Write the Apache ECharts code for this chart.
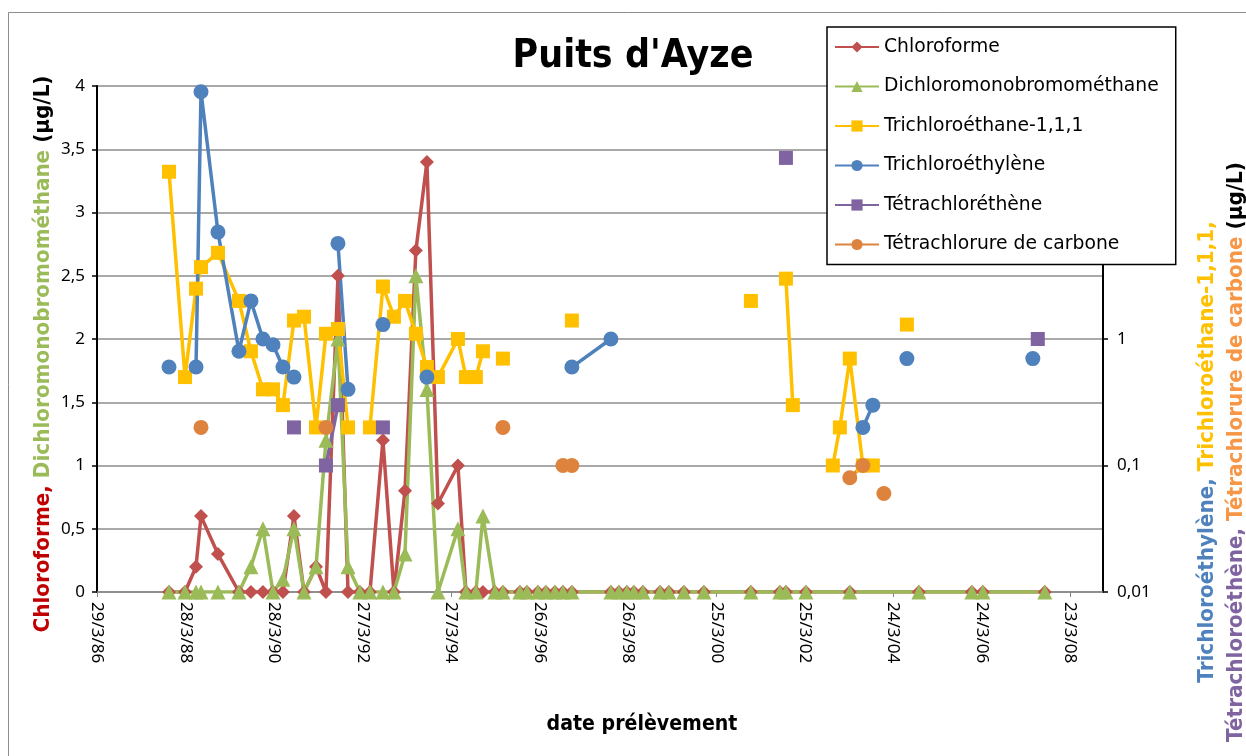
<!DOCTYPE html>
<html>
<head>
<meta charset="utf-8">
<script src="https://cdn.jsdelivr.net/npm/echarts@6/dist/echarts.min.js"></script>
<style>
html,body{margin:0;padding:0;background:#fff;}
#c{width:1246px;height:756px;}
</style>
</head>
<body>
<div id="c"></div>
<script>
// ---- data ----
const dates = [
 '1987-11-13','1988-03-24','1988-06-23','1988-08-03','1988-12-21','1989-06-12','1989-09-19','1989-12-27',
 '1990-03-20','1990-06-10','1990-09-09','1990-12-01','1991-03-10','1991-05-31','1991-09-07','1991-11-29',
 '1992-03-06','1992-05-28','1992-09-12','1992-12-12','1993-03-13','1993-06-11','1993-09-10','1993-12-10',
 '1994-05-24','1994-07-29','1994-10-19','1994-12-16','1995-03-25','1995-05-30','1995-10-17','1995-12-14',
 '1996-03-14','1996-05-19','1996-08-01','1996-10-06','1996-12-19','1997-11-06','1998-01-11','1998-03-18',
 '1998-05-15','1998-07-28','1998-12-16','1999-02-27','1999-07-01','1999-12-13','2001-01-04','2001-08-31',
 '2001-10-20','2001-12-16','2002-04-03','2002-11-11','2003-01-08','2003-03-31','2003-07-17','2003-10-07',
 '2004-01-06','2004-07-14','2004-10-21','2006-01-01','2006-04-02','2007-05-19','2007-06-29','2007-08-26'
];
const n = null;
const chloroforme = [
 0,0,0.2,0.6,0.3,0,0,0,
 0,0,0.6,0,0.2,0,2.5,0,
 0,0,1.2,0,0.8,2.7,3.4,0.7,
 1.0,0,0,0,0,0,0,0,
 0,0,0,0,0,0,0,0,
 0,0,0,0,0,0,0,0,
 0,n,0,n,n,0,n,n,
 n,n,0,0,0,n,n,0
];
const dichloromonobromomethane = [
 0,0,0,0,0,0,0.2,0.5,
 0,0.1,0.5,0,0.2,1.2,2.0,0.2,
 0,0,0,0,0.3,2.5,1.6,0,
 0.5,0,0,0.6,0,0,0,0,
 0,0,0,0,0,0,0,0,
 0,0,0,0,0,0,0,0,
 0,n,0,n,n,0,n,n,
 n,n,0,0,0,n,n,0
];
const trichloroethane111 = [
 21,0.5,2.5,3.7,4.8,2.0,0.8,0.4,
 0.4,0.3,1.4,1.5,0.2,1.1,1.2,0.2,
 n,0.2,2.6,1.5,2.0,1.1,0.6,0.5,
 1.0,0.5,0.5,0.8,n,0.7,n,n,
 n,n,n,n,1.4,n,n,n,
 n,n,n,n,n,n,2.0,n,
 3.0,0.3,n,0.1,0.2,0.7,0.1,0.1,
 n,1.3,n,n,n,n,n,n
];
const trichloroethylene = [
 0.6,n,0.6,90,7,0.8,2.0,1.0,
 0.9,0.6,0.5,n,n,n,5.7,0.4,
 n,n,1.3,n,n,n,0.5,n,
 n,n,n,n,n,n,n,n,
 n,n,n,n,0.6,1.0,n,n,
 n,n,n,n,n,n,n,n,
 n,n,n,n,n,n,0.2,0.3,
 n,0.7,n,n,n,0.7,n,n
];
const tetrachloroethene = [
 n,n,n,n,n,n,n,n,
 n,n,0.2,n,n,0.1,0.3,n,
 n,n,0.2,n,n,n,n,n,
 n,n,n,n,n,n,n,n,
 n,n,n,n,n,n,n,n,
 n,n,n,n,n,n,n,n,
 27,n,n,n,n,n,n,n,
 n,n,n,n,n,n,1.0,n
];
const tetrachlorureCarbone = [
 n,n,n,0.2,n,n,n,n,
 n,n,n,n,n,0.2,n,n,
 n,n,n,n,n,n,n,n,
 n,n,n,n,n,0.2,n,n,
 n,n,n,0.1,0.1,n,n,n,
 n,n,n,n,n,n,n,n,
 n,n,n,n,n,0.08,0.1,n,
 0.06,n,n,n,n,n,n,n
];
const seriesNames = ['Chloroforme','Dichloromonobromométhane','Trichloroéthane-1,1,1','Trichloroéthylène','Tétrachloréthène','Tétrachlorure de carbone'];
const leftTicks = [0,0.5,1,1.5,2,2.5,3,3.5,4];
const rightTicks = [0.01,0.1,1,10,100];

// ---- helpers ----
const FONT = 'DejaVu Sans';
const TICKFONT = 'Noto Sans';
const base = Date.UTC(1986, 2, 29);
function dayOffset(s){ const p = s.split('-').map(Number); return Math.round((Date.UTC(p[0],p[1]-1,p[2]) - base)/86400000); }
const xs = dates.map(dayOffset);
function pairs(vals){ return vals.map((v,i) => [xs[i], v == null ? '-' : v]); }
function fmtDate(v){ const d = new Date(base + v*86400000); return d.getUTCDate() + '/' + (d.getUTCMonth()+1) + '/' + String(d.getUTCFullYear()).slice(2); }
function fmtNum(v){ return String(+(+v).toPrecision(6)).replace('.', ','); }

const colors = ['#C0504D','#9BBB59','#FFC000','#4F81BD','#8064A2','#DE833D'];
const symbols = ['diamond','triangle','rect','circle','rect','circle'];
const sizes = [14,15,14,15,14,15];
const allVals = [chloroforme, dichloromonobromomethane, trichloroethane111, trichloroethylene, tetrachloroethene, tetrachlorureCarbone];

const series = allVals.map((vals, i) => ({
  name: seriesNames[i],
  type: 'line',
  yAxisIndex: i < 2 ? 0 : 1,
  data: pairs(vals),
  connectNulls: i < 2,
  symbol: symbols[i],
  symbolSize: sizes[i],
  showSymbol: true,
  lineStyle: { color: colors[i], width: 3.5 },
  itemStyle: { color: colors[i], borderWidth: 0 },
  emphasis: { disabled: true },
  animation: false
}));

const B = '"DejaVu Sans"';
function rs(c){ return { fill: c, font: 'bold 20px ' + B }; }

const chart = echarts.init(document.getElementById('c'), null, { renderer: 'canvas' });
chart.setOption({
  animation: false,
  backgroundColor: '#fff',
  textStyle: { fontFamily: FONT },
  grid: { left: 97, right: 143, top: 86, bottom: 164, containLabel: false },
  xAxis: {
    type: 'value', min: 0, max: 8300, interval: 730,
    axisLine: { onZero: false, lineStyle: { color: '#868686', width: 1.5 } },
    axisTick: { show: true, length: 5, lineStyle: { color: '#868686', width: 1 } },
    axisLabel: { rotate: -90, margin: 10, color: '#000', fontSize: 17, fontFamily: TICKFONT, formatter: fmtDate, showMaxLabel: false, showMinLabel: true },
    splitLine: { show: false }
  },
  yAxis: [
    {
      type: 'value', min: leftTicks[0], max: leftTicks[leftTicks.length-1], interval: 0.5,
      axisLine: { show: true, lineStyle: { color: '#000', width: 2 } },
      axisTick: { show: true, length: 5, lineStyle: { color: '#000', width: 1.5 } },
      axisLabel: { margin: 12, color: '#000', fontSize: 17, fontFamily: TICKFONT, formatter: fmtNum },
      splitLine: { show: true, lineStyle: { color: '#8c8c8c', width: 1.5 } }
    },
    {
      type: 'log', logBase: 10, min: rightTicks[0], max: rightTicks[rightTicks.length-1],
      axisLine: { show: true, lineStyle: { color: '#000', width: 2 } },
      axisTick: { show: true, length: 5, lineStyle: { color: '#000', width: 1.5 } },
      axisLabel: { margin: 14, color: '#000', fontSize: 17, fontFamily: TICKFONT, formatter: fmtNum },
      splitLine: { show: false },
      minorTick: { show: false }
    }
  ],
  legend: {
    orient: 'vertical', left: 827, top: 27,
    padding: [10, 17, 10, 7],
    itemWidth: 44, itemHeight: 14, itemGap: 19.5,
    backgroundColor: '#fff', borderColor: '#000', borderWidth: 1.5,
    textStyle: { color: '#000', fontSize: 18.75, fontFamily: FONT, lineHeight: 20 },
    data: seriesNames,
    selectedMode: false
  },
  graphic: [
    { type: 'rect', shape: { x: 8.5, y: 12.5, width: 1400, height: 900 }, style: { fill: 'none', stroke: '#8c8c8c', lineWidth: 1 }, silent: true, z: -10 },
    { type: 'text', x: 633, y: 57, scaleY: 1.1, style: { text: "Puits d'Ayze", font: 'bold 35px ' + B, fill: '#000', align: 'center', verticalAlign: 'middle' } },
    { type: 'text', x: 642, y: 725, scaleY: 1.1, style: { text: 'date prélèvement', font: 'bold 19px ' + B, fill: '#000', align: 'center', verticalAlign: 'middle' } },
    { type: 'text', x: 43, y: 354, rotation: Math.PI/2, scaleY: 1.1,
      style: { text: '{r|Chloroforme,} {g|Dichloromonobromométhane} {k|(µg/L)}', align: 'center', verticalAlign: 'middle',
        font: 'bold 20px ' + B,
        rich: { r: rs('#C00000'), g: rs('#9BBB59'), k: rs('#000') } } },
    { type: 'text', x: 1207, y: 452, rotation: Math.PI/2, scaleY: 1.1,
      style: { text: '{b|Trichloroéthylène,} {y|Trichloroéthane-1,1,1,}', align: 'center', verticalAlign: 'middle',
        font: 'bold 20px ' + B,
        rich: { b: rs('#4F81BD'), y: rs('#FFC000') } } },
    { type: 'text', x: 1236, y: 452, rotation: Math.PI/2, scaleY: 1.1,
      style: { text: '{p|Tétrachloroéthène,} {o|Tétrachlorure de carbone} {k|(µg/L)}', align: 'center', verticalAlign: 'middle',
        font: 'bold 20px ' + B,
        rich: { p: rs('#8064A2'), o: rs('#F79646'), k: rs('#000') } } }
  ],
  series: series
});
</script>
</body>
</html>
